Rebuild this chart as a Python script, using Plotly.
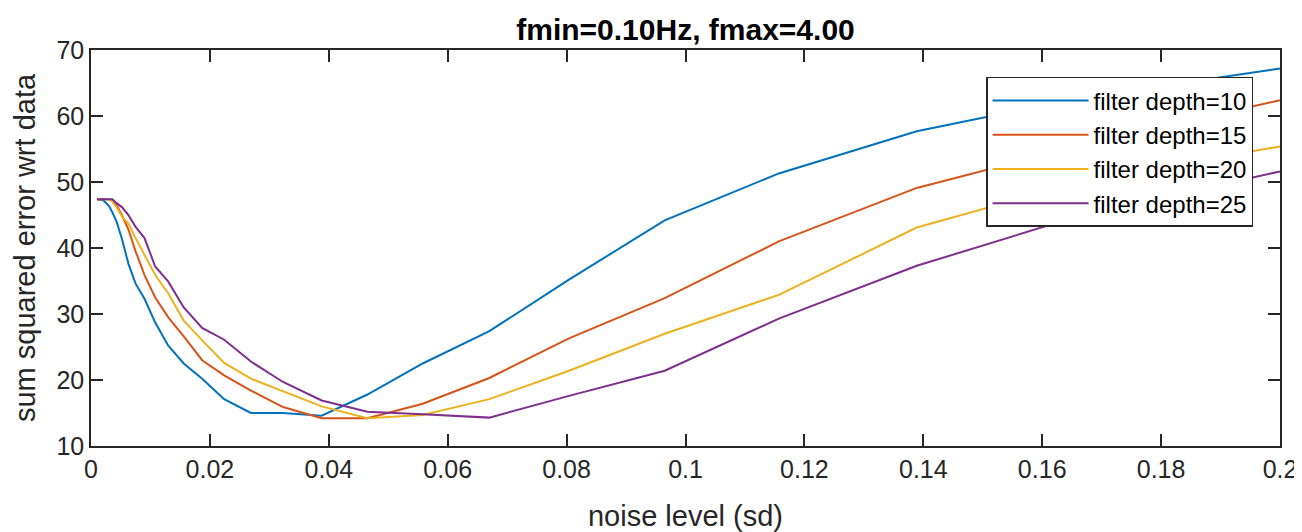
import plotly.graph_objects as go

noise_sd = [0.0010, 0.0012, 0.0014, 0.0017, 0.0021, 0.0025, 0.0030, 0.0036, 0.0043, 0.0052,
            0.0063, 0.0075, 0.0090, 0.0108, 0.0130, 0.0156, 0.0187, 0.0224, 0.0269, 0.0323,
            0.0388, 0.0465, 0.0558, 0.0670, 0.0804, 0.0965, 0.1157, 0.1389, 0.1667, 0.2000]

depth10 = [47.4, 47.4, 47.3, 47.3, 47.2, 46.8, 46.4, 45.4, 44.0, 41.4,
           37.6, 34.6, 32.3, 28.7, 25.2, 22.5, 20.2, 17.1, 15.0, 15.0,
           14.6, 17.8, 22.5, 27.4, 35.2, 44.2, 51.3, 57.7, 62.8, 67.2]
depth15 = [47.4, 47.4, 47.4, 47.4, 47.4, 47.4, 47.4, 47.2, 46.5, 45.0,
           42.8, 39.5, 35.9, 32.5, 29.5, 26.6, 23.0, 20.7, 18.4, 15.9,
           14.2, 14.2, 16.4, 20.3, 26.3, 32.4, 41.0, 49.1, 55.6, 62.4]
depth20 = [47.4, 47.4, 47.4, 47.4, 47.4, 47.4, 47.4, 47.0, 46.2, 44.8,
           43.7, 41.5, 38.9, 35.9, 33.1, 29.0, 26.0, 22.6, 20.2, 18.3,
           16.0, 14.2, 14.7, 17.1, 21.4, 27.0, 32.9, 43.1, 50.1, 55.4]
depth25 = [47.4, 47.4, 47.4, 47.4, 47.4, 47.4, 47.4, 47.4, 46.8, 46.2,
           45.0, 43.2, 41.5, 37.2, 34.9, 31.0, 27.9, 26.1, 22.8, 19.7,
           16.9, 15.2, 14.8, 14.3, 17.6, 21.4, 29.3, 37.3, 45.0, 51.6]

series_names = ["filter depth=10", "filter depth=15", "filter depth=20", "filter depth=25"]
series_colors = ["#0072BD", "#D95319", "#EDB120", "#7E2F8E"]

x_tickvals = [0, 0.02, 0.04, 0.06, 0.08, 0.1, 0.12, 0.14, 0.16, 0.18, 0.2]
x_ticktext = ["0", "0.02", "0.04", "0.06", "0.08", "0.1", "0.12", "0.14", "0.16", "0.18", "0.2"]
y_tickvals = [10, 20, 30, 40, 50, 60, 70]

FONT = "Liberation Sans, Arial, Helvetica, sans-serif"
AX = "#262626"

fig = go.Figure()
for name, ys, col in zip(series_names, [depth10, depth15, depth20, depth25], series_colors):
    fig.add_trace(go.Scatter(x=noise_sd, y=ys, mode="lines", name=name,
                             line=dict(color=col, width=2)))

axis_common = dict(showgrid=False, zeroline=False, showline=True, linecolor=AX, linewidth=1.5,
                   ticks="inside", ticklen=12, tickwidth=1.5, tickcolor=AX, mirror="ticks",
                   automargin=False,
                   tickfont=dict(family=FONT, size=25, color=AX))

fig.update_layout(
    width=1302, height=532,
    margin=dict(l=83, r=30, t=42, b=94),
    paper_bgcolor="white", plot_bgcolor="white",
    title=dict(text="<b>fmin=0.10Hz, fmax=4.00</b>", x=0.5, xanchor="center", xref="paper",
               y=0.96, yanchor="middle", font=dict(family=FONT, size=30, color="black")),
    xaxis=dict(range=[0, 0.2], tickvals=x_tickvals, ticktext=x_ticktext,
               title=dict(text="noise level (sd)", font=dict(family=FONT, size=29, color=AX), standoff=24),
               **axis_common),
    yaxis=dict(range=[10, 70], tickvals=y_tickvals,
               title=dict(text="sum squared error wrt data", font=dict(family=FONT, size=29, color=AX), standoff=12),
               **axis_common),
    legend=dict(x=0.7528, y=0.932, xanchor="left", yanchor="top", bgcolor="white",
                bordercolor=AX, borderwidth=1.5, itemwidth=96,
                font=dict(family=FONT, size=24, color="black")),
    showlegend=True,
)

fig.write_html("out.html")
